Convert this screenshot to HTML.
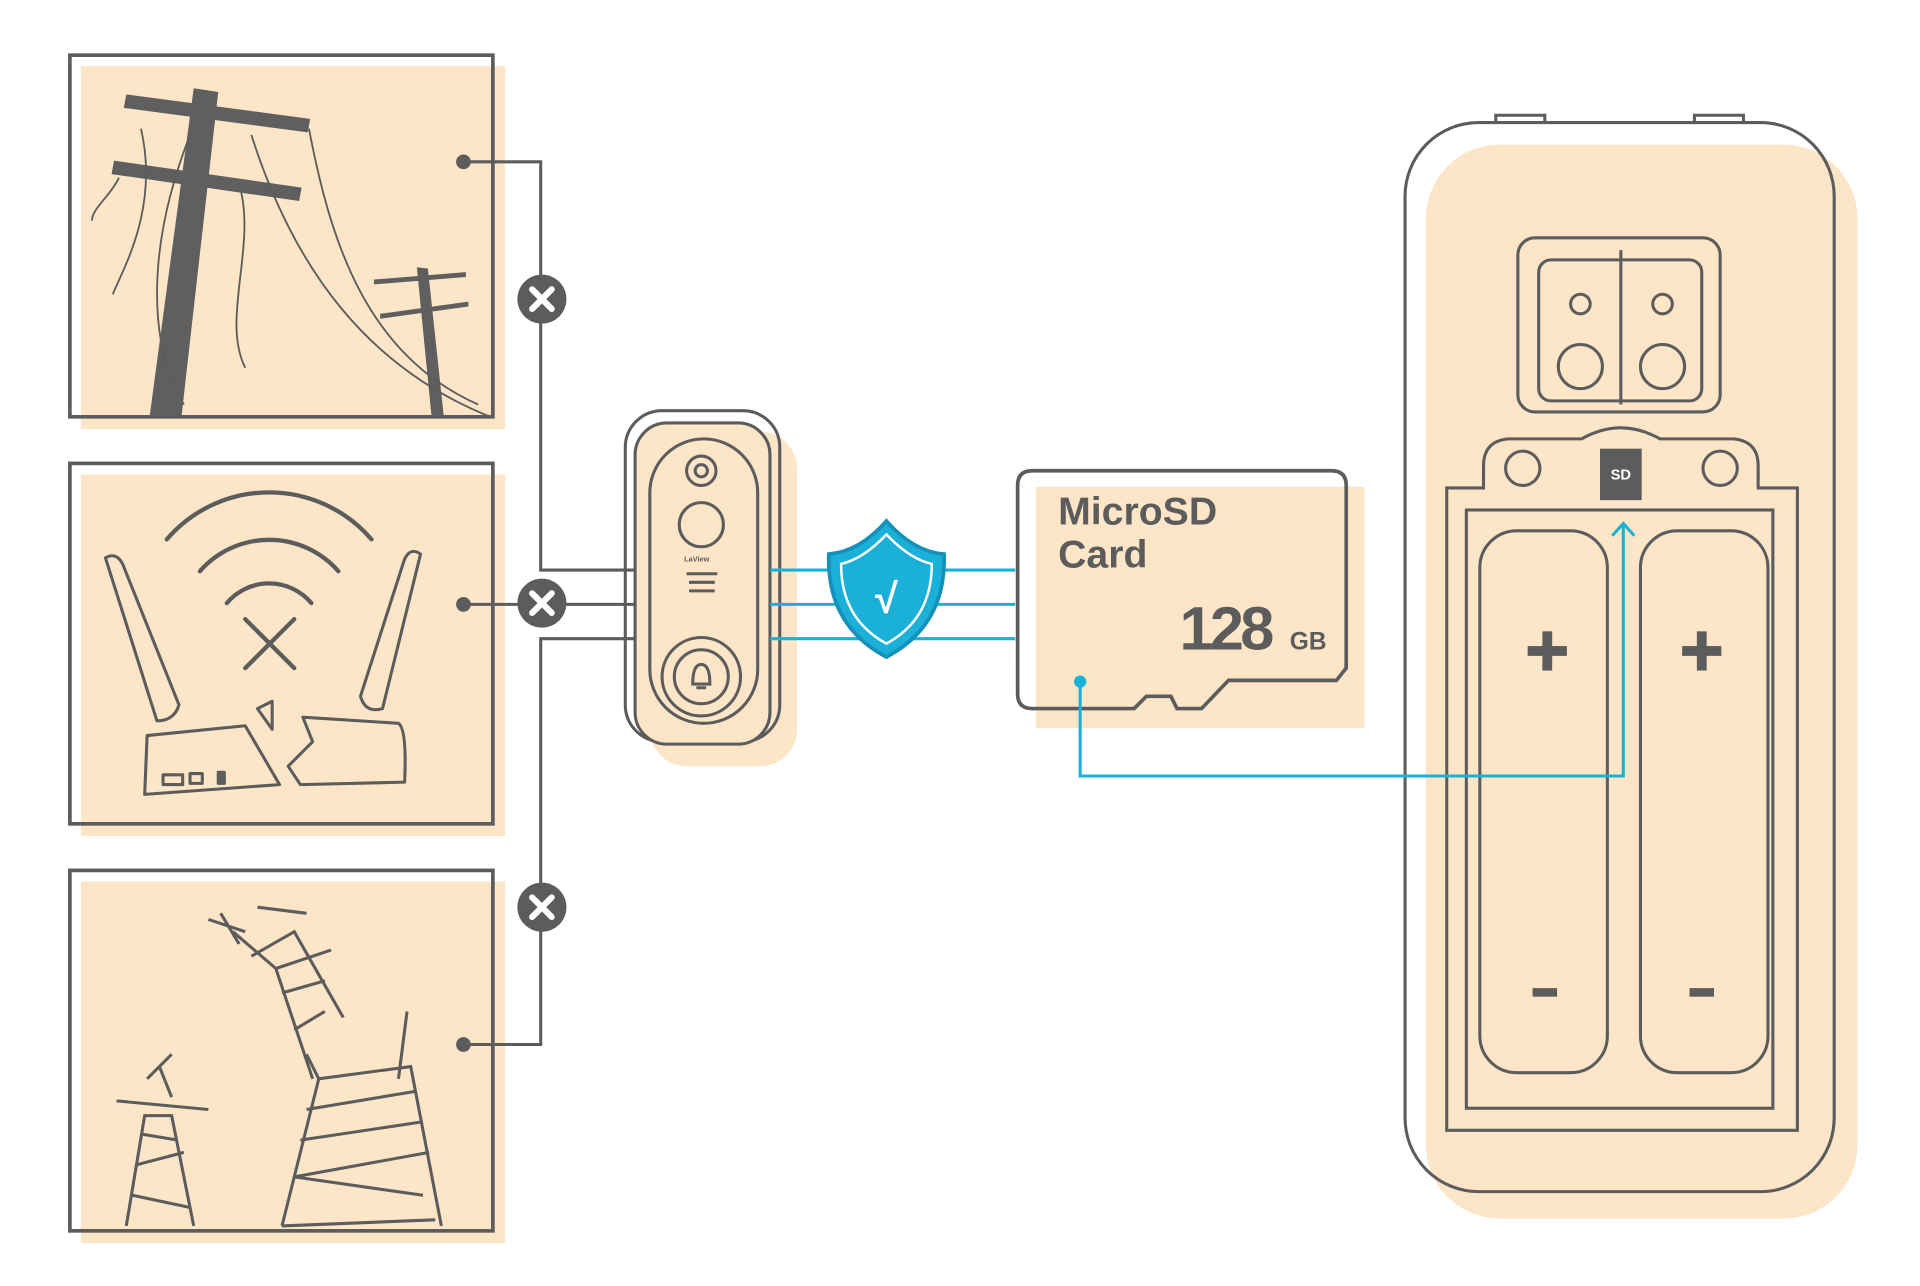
<!DOCTYPE html>
<html><head><meta charset="utf-8"><style>html,body{margin:0;padding:0;background:#fff}svg{display:block}</style></head>
<body>
<svg width="1920" height="1286" viewBox="0 0 1566 1049" preserveAspectRatio="none" xmlns="http://www.w3.org/2000/svg" font-family="Liberation Sans, sans-serif">
<g fill="none" stroke="#5c5c5c" stroke-width="3">
<rect x="66" y="54" width="346" height="296" fill="#fde6c8" stroke="none"/>
<rect x="57" y="45" width="345" height="295"/>
<rect x="66" y="387" width="346" height="295" fill="#fde6c8" stroke="none"/>
<rect x="57" y="378" width="345" height="294"/>
<rect x="66" y="719" width="346" height="295" fill="#fde6c8" stroke="none"/>
<rect x="57" y="710" width="345" height="294"/>
</g>
<g fill="#5f5f5f">
<polygon points="158,72 178,75 148,340 122,340"/>
<polygon points="103,77 253,97 251,108 101,88"/>
<polygon points="93,131 246,153 244,164 91,142"/>
<polygon points="340,218 349,219 362,340 352,340"/>
<polygon points="305,228 380,222 380,226 305,232"/>
<polygon points="310,256 382,246 382,250 310,260"/>
</g>
<g fill="none" stroke="#5c5c5c" stroke-width="1.5">
<path d="M115,105 C130,170 100,220 92,240"/><path d="M155,110 C120,200 120,280 150,330"/>
<path d="M205,110 C240,220 300,300 400,340"/><path d="M252,105 C270,200 300,290 390,330"/>
<path d="M195,150 C210,200 180,260 200,300"/><path d="M97,145 C90,160 75,170 75,180"/>
</g>
<g fill="none" stroke="#5c5c5c" stroke-width="3.5" stroke-linecap="round">
<path d="M136,440 A110,110 0 0 1 303,440"/><path d="M163,466 A75,75 0 0 1 276,466"/><path d="M185,492 A45,45 0 0 1 254,492"/>
<path d="M200,505 L240,545 M240,505 L200,545"/>
</g>
<g fill="none" stroke="#5c5c5c" stroke-width="2.5" stroke-linejoin="round">
<path d="M86,455 Q95,450 100,460 L146,575 Q142,588 128,588 Z"/>
<path d="M343,452 Q335,446 330,456 L294,568 Q298,582 312,578 Z"/>
<path d="M120,600 L200,592 L228,640 L118,648 Z"/><path d="M247,585 L325,590 Q332,595 330,638 L245,640 L235,625 L255,605 Z"/>
<path d="M210,578 L222,572 L222,595 Z"/>
<rect x="133" y="632" width="16" height="8"/><rect x="155" y="631" width="10" height="8"/><rect x="178" y="630" width="5" height="9" fill="#5c5c5c"/>
</g>
<g fill="none" stroke="#5c5c5c" stroke-width="2.5">
<path d="M190,760 L225,790 L255,880 M205,780 L240,760 L280,830 M225,790 L270,775 M230,810 L265,800 M240,840 L265,825"/>
<path d="M170,750 L200,760 M180,745 L195,770 M210,740 L250,745"/>
<path d="M230,1000 L260,880 L335,870 L360,1000 M240,960 L350,940 M245,930 L345,915 M250,905 L340,890 M240,960 L345,975 M230,1000 L355,995"/>
<path d="M332,825 L325,880 M260,880 L250,860"/>
<path d="M103,1000 L118,910 L140,910 L158,1000 M108,975 L155,985 M112,950 L150,940 M115,925 L145,930 M95,898 L170,905 M120,880 L140,860 M130,870 L140,895"/>
</g>
<g fill="none" stroke="#5c5c5c" stroke-width="2.5">
<path d="M378,132 H441 V465 H518"/><path d="M378,493 H518"/><path d="M378,852 H441 V521 H518"/>
</g>
<g fill="#5c5c5c"><circle cx="378" cy="132" r="6"/><circle cx="378" cy="493" r="6"/><circle cx="378" cy="852" r="6"/></g>
<g>
<circle cx="442" cy="244" r="20" fill="#5c5c5c"/><circle cx="442" cy="492" r="20" fill="#5c5c5c"/><circle cx="442" cy="740" r="20" fill="#5c5c5c"/>
<g stroke="#fff" stroke-width="5" stroke-linecap="round">
<path d="M434,236 L450,252 M450,236 L434,252"/><path d="M434,484 L450,500 M450,484 L434,500"/><path d="M434,732 L450,748 M450,732 L434,748"/>
</g></g>
<rect x="530" y="352" width="120" height="273" rx="30" fill="#fde6c8"/>
<g fill="none" stroke="#5c5c5c" stroke-width="2.5">
<rect x="510" y="335" width="126" height="270" rx="30"/>
<rect x="518" y="345" width="110" height="262" rx="26" fill="#fde6c8"/>
<rect x="530" y="358" width="88" height="232" rx="44"/>
<circle cx="572" cy="384" r="12"/><circle cx="572" cy="384" r="5"/><circle cx="572" cy="428" r="18"/>
<circle cx="572" cy="552" r="32"/><circle cx="572" cy="552" r="22"/>
<path d="M560,468 H585 M562,475 H583 M562,482 H583"/>
<path d="M565,558 Q565,542 572,542 Q579,542 579,558 Z M568,561 H576"/>
</g>
<text x="558" y="458" font-size="6" fill="#5c5c5c" font-weight="bold">LaView</text>
<g stroke="#1bb0d8" stroke-width="2.5"><path d="M628,465 H828 M628,493 H828 M628,521 H828"/></g>
<path d="M723,425 Q745,450 770,452 Q772,510 723,536 Q674,510 676,452 Q701,450 723,425 Z" fill="#1bb0d8" stroke="#1590b8" stroke-width="3"/>
<path d="M723,436 Q742,456 760,460 Q760,505 723,525 Q686,505 686,460 Q704,456 723,436 Z" fill="none" stroke="#fff" stroke-width="2"/>
<text x="723" y="500" font-size="34" fill="#fff" text-anchor="middle" font-weight="bold">√</text>
<path d="M845,397 H1113 V594 H845 Z" fill="#fde6c8"/>
<path d="M842,384 H1086 Q1098,384 1098,396 V545 L1090,555 L1002,555 L980,578 L960,578 L955,568 L935,568 L925,578 H842 Q830,578 830,566 V396 Q830,384 842,384 Z" fill="none" stroke="#5c5c5c" stroke-width="3"/>
<text x="863" y="428" font-size="32" font-weight="bold" fill="#5c5c5c">MicroSD</text>
<text x="863" y="463" font-size="32" font-weight="bold" fill="#5c5c5c">Card</text>
<text x="962" y="530" font-size="50" font-weight="bold" fill="#5c5c5c" letter-spacing="-3">128</text>
<text x="1052" y="530" font-size="20" font-weight="bold" fill="#5c5c5c">GB</text>
<rect x="1163" y="118" width="352" height="876" rx="60" fill="#fde6c8"/>
<g fill="none" stroke="#5c5c5c" stroke-width="2.5">
<path d="M1220,100 V94 H1260 V100 M1382,100 V94 H1422 V100"/>
<rect x="1146" y="100" width="350" height="872" rx="60"/>
<rect x="1238" y="194" width="165" height="142" rx="14"/>
<rect x="1255" y="212" width="133" height="115" rx="10"/>
<path d="M1322,204 V330"/>
<circle cx="1289" cy="248" r="8"/><circle cx="1356" cy="248" r="8"/><circle cx="1289" cy="299" r="18"/><circle cx="1356" cy="299" r="18"/>
<path d="M1180,398 H1210 V380 Q1210,360 1230,358 H1290 Q1322,340 1354,358 H1414 Q1434,360 1434,380 V398 H1466 V922 H1180 Z"/>
<circle cx="1242" cy="382" r="14"/><circle cx="1403" cy="382" r="14"/>
<rect x="1196" y="416" width="250" height="488"/>
<rect x="1207" y="433" width="104" height="442" rx="30"/>
<rect x="1338" y="433" width="104" height="442" rx="30"/>
</g>
<rect x="1305" y="366" width="34" height="42" fill="#5c5c5c"/>
<text x="1322" y="391" font-size="12" font-weight="bold" fill="#fff" text-anchor="middle">SD</text>
<g fill="#5c5c5c"><rect x="1246" y="527" width="32" height="8"/><rect x="1258" y="515" width="8" height="32"/>
<rect x="1372" y="527" width="32" height="8"/><rect x="1384" y="515" width="8" height="32"/>
<rect x="1250" y="806" width="20" height="7"/><rect x="1378" y="806" width="20" height="7"/></g>
<path d="M881,556 V633 H1324 V428" fill="none" stroke="#1bb0d8" stroke-width="2.5"/>
<path d="M1315,437 L1324,427 L1333,437" fill="none" stroke="#1bb0d8" stroke-width="2.5"/>
<circle cx="881" cy="556" r="5" fill="#1bb0d8"/>
</svg>
</body></html>
